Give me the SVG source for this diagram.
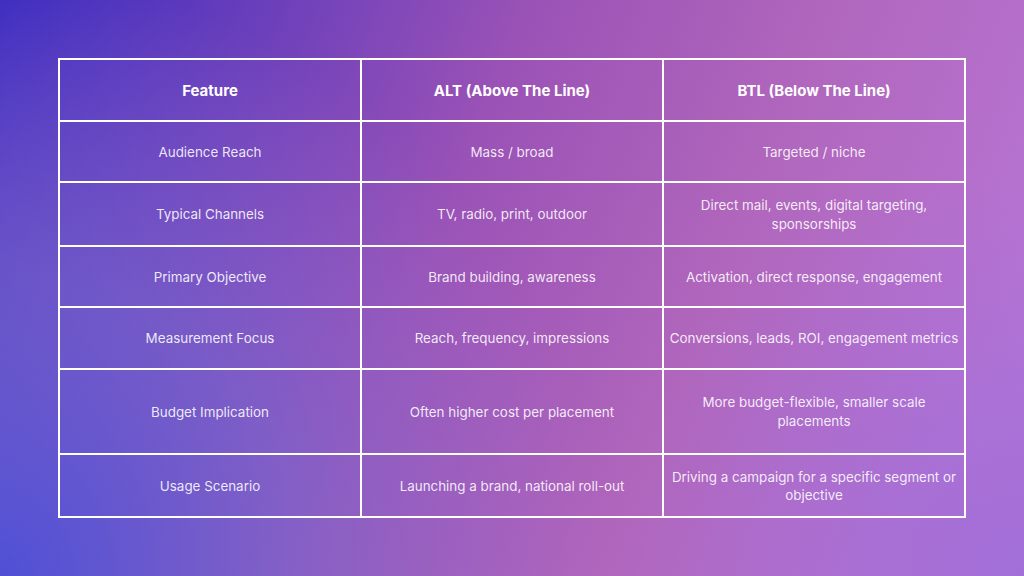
<svg xmlns="http://www.w3.org/2000/svg" width="1024" height="576" viewBox="0 0 1024 576">
<defs>
<linearGradient id="bg" x1="0" y1="0" x2="1024" y2="400" gradientUnits="userSpaceOnUse">
<stop offset="0" stop-color="#3a2cc0"/>
<stop offset="0.45" stop-color="#9a52b6"/>
<stop offset="0.7" stop-color="#b066bc"/>
<stop offset="1" stop-color="#b876d6"/>
</linearGradient>
<radialGradient id="bl" cx="0" cy="576" r="600" gradientUnits="userSpaceOnUse">
<stop offset="0" stop-color="#4f50d6" stop-opacity="1"/>
<stop offset="0.5" stop-color="#7a6ad0" stop-opacity="0.6"/>
<stop offset="1" stop-color="#9a70d0" stop-opacity="0"/>
</radialGradient>
<radialGradient id="br" cx="1024" cy="576" r="400" gradientUnits="userSpaceOnUse">
<stop offset="0" stop-color="#9c6cd8" stop-opacity="0.8"/>
<stop offset="1" stop-color="#9c6cd8" stop-opacity="0"/>
</radialGradient>
</defs>
<style>
.grid{fill:none;stroke:#ffffff;stroke-width:2}
.h{font-family:Inter,"Liberation Sans",sans-serif;font-size:15px;font-weight:700;fill:#ffffff;text-anchor:middle;dominant-baseline:central}
.t{font-family:Inter,"Liberation Sans",sans-serif;font-size:13.4px;font-weight:400;fill:#ffffff;fill-opacity:0.88;text-anchor:middle;dominant-baseline:central}
</style>
<rect width="1024" height="576" fill="url(#bg)"/>
<rect width="1024" height="576" fill="url(#bl)"/>
<rect width="1024" height="576" fill="url(#br)"/>
<g id="table-grid" class="grid">
<rect x="59" y="59" width="906" height="458"/>
<line x1="361" y1="59" x2="361" y2="517"/>
<line x1="663" y1="59" x2="663" y2="517"/>
<line x1="59" y1="121" x2="965" y2="121"/>
<line x1="59" y1="182" x2="965" y2="182"/>
<line x1="59" y1="246" x2="965" y2="246"/>
<line x1="59" y1="307" x2="965" y2="307"/>
<line x1="59" y1="369" x2="965" y2="369"/>
<line x1="59" y1="454" x2="965" y2="454"/>
</g>
<g id="header">
<text class="h" x="210" y="90">Feature</text>
<text class="h" x="512" y="90">ALT (Above The Line)</text>
<text class="h" x="814" y="90">BTL (Below The Line)</text>
</g>
<g id="row-audience">
<text class="t" x="210" y="151.5">Audience Reach</text>
<text class="t" x="512" y="151.5">Mass / broad</text>
<text class="t" x="814" y="151.5">Targeted / niche</text>
</g>
<g id="row-channels">
<text class="t" x="210" y="214">Typical Channels</text>
<text class="t" x="512" y="214">TV, radio, print, outdoor</text>
<text class="t" x="814" y="205">Direct mail, events, digital targeting,</text>
<text class="t" x="814" y="224">sponsorships</text>
</g>
<g id="row-objective">
<text class="t" x="210" y="276.5">Primary Objective</text>
<text class="t" x="512" y="276.5">Brand building, awareness</text>
<text class="t" x="814" y="276.5">Activation, direct response, engagement</text>
</g>
<g id="row-measurement">
<text class="t" x="210" y="338">Measurement Focus</text>
<text class="t" x="512" y="338">Reach, frequency, impressions</text>
<text class="t" x="814" y="338">Conversions, leads, ROI, engagement metrics</text>
</g>
<g id="row-budget">
<text class="t" x="210" y="411.5">Budget Implication</text>
<text class="t" x="512" y="411.5">Often higher cost per placement</text>
<text class="t" x="814" y="402">More budget-flexible, smaller scale</text>
<text class="t" x="814" y="421">placements</text>
</g>
<g id="row-usage">
<text class="t" x="210" y="485.5">Usage Scenario</text>
<text class="t" x="512" y="485.5">Launching a brand, national roll-out</text>
<text class="t" x="814" y="477">Driving a campaign for a specific segment or</text>
<text class="t" x="814" y="495">objective</text>
</g>
</svg>
